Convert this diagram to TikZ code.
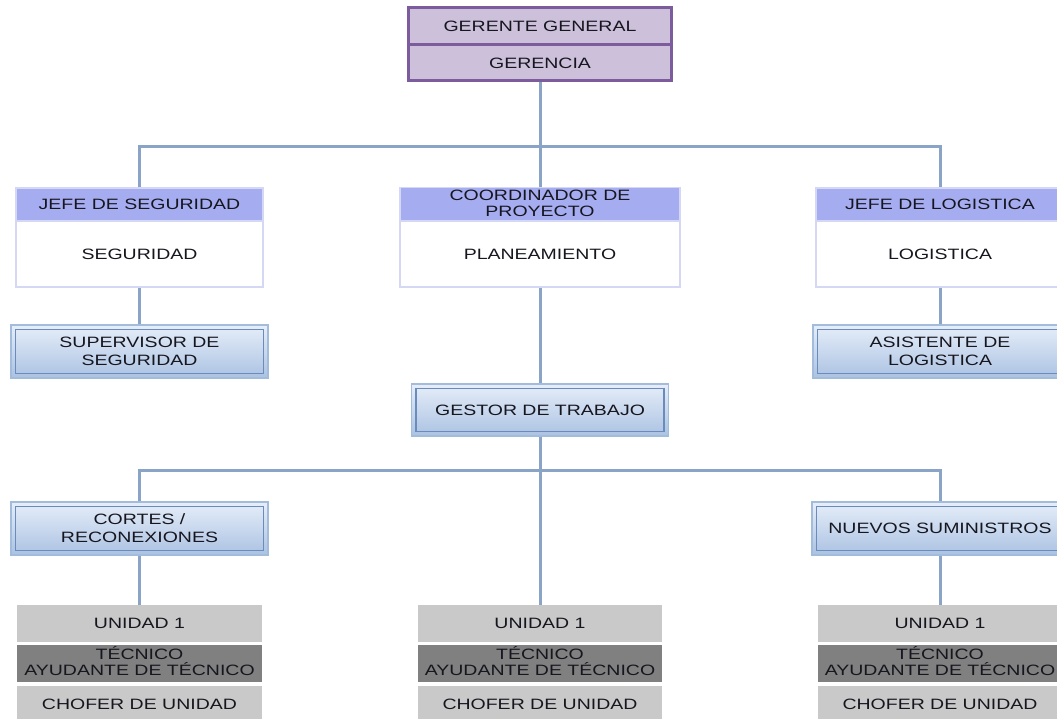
\documentclass[tikz,border=0pt]{standalone}
\usepackage{fontspec}
\setmainfont{Liberation Sans}[FakeStretch=1.3]
\definecolor{purpb}{HTML}{7D5C9E}
\definecolor{purpf}{HTML}{CCC0DA}
\definecolor{hdrc}{HTML}{A6ACF0}
\definecolor{bodyb}{HTML}{D4D8F4}
\definecolor{connc}{HTML}{8AA4C8}
\definecolor{gtop}{HTML}{E6EEF9}
\definecolor{gbot}{HTML}{ABC2E2}
\definecolor{gout}{HTML}{A4BCDC}
\definecolor{ginn}{HTML}{6A8CBC}
\definecolor{lgray}{HTML}{C9C9C9}
\definecolor{dgray}{HTML}{808080}
\definecolor{txtc}{HTML}{16161F}
\begin{document}
\begin{tikzpicture}[x=1pt,y=-1pt,
  every node/.style={inner sep=0pt, align=center, text=txtc, font=\fontsize{15}{18}\selectfont},
  topbox/.style={draw=purpb, fill=purpf, line width=3pt, minimum width=263pt},
  hdr/.style={fill=hdrc, draw=bodyb, line width=1.5pt, minimum height=33pt},
  bodybox/.style={fill=white, draw=bodyb, line width=2pt, minimum height=66pt},
  gbox/.style={top color=gtop, bottom color=gbot, draw=gout, line width=1.5pt,
    minimum height=53pt,
    path picture={\draw[ginn, line width=1.5pt]
      ([shift={(4.5pt,-4.5pt)}]path picture bounding box.north west) rectangle
      ([shift={(-4.5pt,4.5pt)}]path picture bounding box.south east);}},
  ulight/.style={fill=lgray, minimum height=37pt},
  udark/.style={fill=dgray, minimum height=37pt, font=\fontsize{15}{16}\selectfont},
  conn/.style={draw=connc, line width=3pt}
]
\useasboundingbox (0,0) rectangle (1057,719);
% top
\node[topbox, minimum height=37pt] (gg) at (540,26.5) {GERENTE GENERAL};
\node[topbox, minimum height=36pt] (ger) at (540,63) {GERENCIA};
% second level
\node[hdr, minimum width=247pt] (jsh) at (139.5,204.5) {JEFE DE SEGURIDAD};
\node[bodybox, minimum width=247pt] (jsb) at (139.5,254) {SEGURIDAD};
\node[hdr, minimum width=280pt] (coh) at (540,204.5) {\raisebox{2pt}{\begin{tabular}{@{}c@{}}COORDINADOR DE\\[-2pt]PROYECTO\end{tabular}}};
\node[bodybox, minimum width=280pt] (cob) at (540,254) {PLANEAMIENTO};
\node[hdr, minimum width=248pt] (jlh) at (940,204.5) {JEFE DE LOGISTICA};
\node[bodybox, minimum width=248pt] (jlb) at (940,254) {LOGISTICA};
% third level
\node[gbox, minimum width=257pt] (sup) at (139.5,351.5) {SUPERVISOR DE\\SEGURIDAD};
\node[gbox, minimum width=254pt] (asi) at (940,351.5) {ASISTENTE DE\\LOGISTICA};
\node[gbox, minimum width=257pt, minimum height=52pt] (ges) at (540,410) {GESTOR DE TRABAJO};
% fourth level
\node[gbox, minimum width=257pt] (cor) at (139.5,528.5) {CORTES /\\RECONEXIONES};
\node[gbox, minimum width=256pt] (nue) at (940,528.5) {NUEVOS SUMINISTROS};
% unit groups
\foreach \nm/\cx/\w in {l/139.5/245, m/540/244, r/940/244}{
  \node[ulight, minimum width=\w pt] (u1\nm) at (\cx,623.5) {UNIDAD 1};
  \node[udark, minimum width=\w pt] (u2\nm) at (\cx,663.5) {\raisebox{3pt}{\begin{tabular}{@{}c@{}}TÉCNICO\\[-2pt]AYUDANTE DE TÉCNICO\end{tabular}}};
  \node[ulight, minimum width=\w pt, minimum height=36pt] (u3\nm) at (\cx,704) {CHOFER DE UNIDAD};
}
% connectors
\coordinate (bus1) at (540,147);
\coordinate (bus2) at (540,470);
\draw[conn] (ger.south) -- (bus1);
\draw[conn] (jsh.north) |- (bus1) -| (jlh.north);
\draw[conn] (bus1) -- (coh.north);
\draw[conn] (jsb.south) -- (sup.north);
\draw[conn] (jlb.south) -- (asi.north);
\draw[conn] (cob.south) -- (ges.north);
\draw[conn] (ges.south) -- (bus2);
\draw[conn] (cor.north) |- (bus2) -| (nue.north);
\draw[conn] (bus2) -- (u1m.north);
\draw[conn] (cor.south) -- (u1l.north);
\draw[conn] (nue.south) -- (u1r.north);
\end{tikzpicture}
\end{document}
